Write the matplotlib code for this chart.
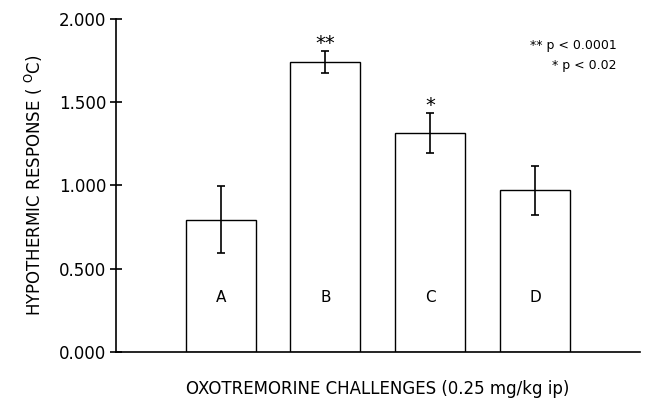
import matplotlib
matplotlib.use("Agg")
import matplotlib.pyplot as plt

# data
groups = ["A", "B", "C", "D"]
means = [0.795, 1.740, 1.315, 0.970]
errors = [0.200, 0.065, 0.120, 0.150]
stars = ["", "**", "*", ""]
legend_lines = ["** p < 0.0001", "* p < 0.02"]
yticks = [0.0, 0.5, 1.0, 1.5, 2.0]

plt.rcParams['font.family'] = ['DejaVu Sans']

fig = plt.figure(figsize=(6.47, 4.05), dpi=100)
ax = fig.add_axes([0.179, 0.131, 0.81, 0.822])

xs = [1, 2, 3, 4]
ax.bar(xs, means, width=0.667, color="white", edgecolor="black", linewidth=1.0)
ax.errorbar(xs, means, yerr=errors, fmt="none", ecolor="black",
            elinewidth=1.2, capsize=3, capthick=1.2)

for x, m, e, s, g in zip(xs, means, errors, stars, groups):
    ax.text(x, 0.33, g, ha="center", va="center", fontsize=11)
    if s:
        ax.text(x, m + e + 0.012, s, ha="center", va="baseline", fontsize=14)

ax.text(4.78, 1.84, legend_lines[0], ha="right", va="center", fontsize=9)
ax.text(4.78, 1.72, legend_lines[1], ha="right", va="center", fontsize=9)

ax.set_xlim(0, 5)
ax.set_ylim(0, 2.0)
ax.set_yticks(yticks)
ax.set_yticklabels(["%.3f" % v for v in yticks], fontsize=12)
ax.set_xticks([])
ax.tick_params(axis="y", direction="inout", length=8, width=1.2, pad=3)
for side in ["left", "bottom"]:
    ax.spines[side].set_linewidth(1.2)
ax.spines["top"].set_visible(False)
ax.spines["right"].set_visible(False)

ax.set_xlabel("OXOTREMORINE CHALLENGES (0.25 mg/kg ip)", fontsize=12, labelpad=20)
ax.set_ylabel("HYPOTHERMIC RESPONSE ( $^{\\mathrm{O}}$C)", fontsize=12, labelpad=10)

fig.savefig("out.png", dpi=100)
